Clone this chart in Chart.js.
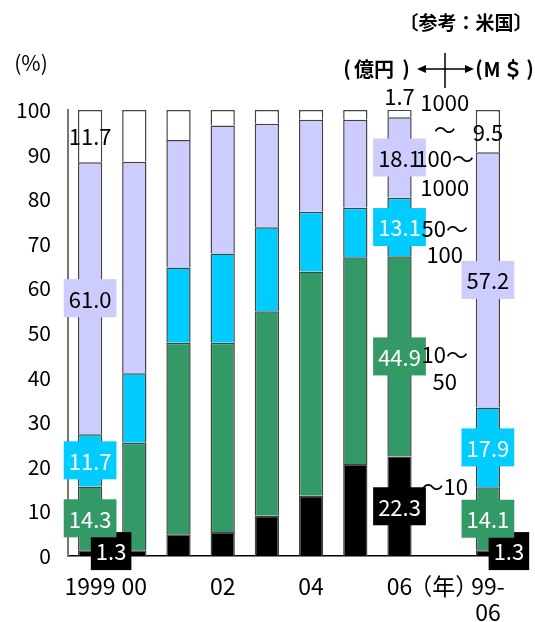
<!DOCTYPE html>
<html>
<head>
<meta charset="utf-8">
<script src="https://cdn.jsdelivr.net/npm/chart.js@4/dist/chart.umd.min.js"></script>
<style>
  html, body { margin: 0; padding: 0; background: #fff; }
  canvas { display: block; }
</style>
</head>
<body>
<canvas id="chart" width="535" height="622"></canvas>
<script>
// Category labels along the bottom axis (index 8 is an empty spacer column)
const categories = ['1999', '00', '', '02', '', '04', '', '06', '（年）', ['99-', '06']];

// Share (%) of deals by size band, stacked bottom to top
const sizeUnder10   = [1.3, 1.3, 4.9, 5.4, 9.0, 13.5, 20.6, 22.3, null, 1.3];
const size10to50    = [14.3, 24.1, 42.9, 42.4, 45.9, 50.3, 46.4, 44.9, null, 14.1];
const size50to100   = [11.7, 15.6, 16.9, 20.0, 18.8, 13.4, 11.1, 13.1, null, 17.9];
const size100to1000 = [61.0, 47.4, 28.6, 28.7, 23.2, 20.6, 19.7, 18.1, null, 57.2];
const sizeOver1000  = [11.7, 11.6, 6.7, 3.5, 3.1, 2.2, 2.2, 1.7, null, 9.5];

// Size band captions (億円 on the left of the arrow, M$ on the right)
const bandCaptions = [['1000', '～'], ['100～', '1000'], ['50～', '100'], ['10～', '50'], ['～10']];

// Y axis ticks
const yTicks = [0, 10, 20, 30, 40, 50, 60, 70, 80, 90, 100];

// Columns whose bands carry value labels
const labelledColumns = [0, 7, 9];

// Pick a narrow sans for the numerals when the system has one
function fontAvailable(name) {
  const c = document.createElement('canvas').getContext('2d');
  const s = '1999 100.0 abcxyz';
  c.font = '40px monospace';
  const a = c.measureText(s).width;
  c.font = '40px "' + name + '", monospace';
  return c.measureText(s).width !== a;
}
const NARROW = fontAvailable('Liberation Sans Narrow');
const NUM_FAMILY = NARROW ? '"Liberation Sans Narrow", "Noto Sans CJK JP", sans-serif' : '"Noto Sans CJK JP", sans-serif';
const LABEL_SIZE = NARROW ? 24 : 22;
const XTICK_SIZE = NARROW ? 24 : 23;
const YTICK_SIZE = NARROW ? 23 : 21;
const CJK_FAMILY = '"Noto Sans CJK JP", sans-serif';

const bandStyles = [
  { bg: '#000000', fg: '#ffffff' },
  { bg: '#339966', fg: '#ffffff' },
  { bg: '#00ccff', fg: '#ffffff' },
  { bg: '#ccccff', fg: '#000000' },
  { bg: '#ffffff', fg: '#000000' }
];
const bandSeries = [sizeUnder10, size10to50, size50to100, size100to1000, sizeOver1000];
const bandNames = ['～10', '10～50', '50～100', '100～1000', '1000～'];

const datasets = bandSeries.map((data, k) => ({
  label: bandNames[k],
  data: data,
  backgroundColor: bandStyles[k].bg,
  labelColor: bandStyles[k].fg,
  borderColor: '#444444',
  borderWidth: { top: 1.5, left: 1.5, right: 1.5, bottom: 0 },
  borderSkipped: 'start',
  barPercentage: 0.55,
  categoryPercentage: 1.0
}));

// Value labels: boxed in the band colour, plain text for the top band
const valueLabels = {
  id: 'valueLabels',
  afterDatasetsDraw(chart) {
    const ctx = chart.ctx;
    ctx.save();
    ctx.font = LABEL_SIZE + 'px ' + NUM_FAMILY;
    ctx.textAlign = 'center';
    ctx.textBaseline = 'middle';
    chart.data.datasets.forEach((ds, d) => {
      const meta = chart.getDatasetMeta(d);
      labelledColumns.forEach(i => {
        const v = ds.data[i];
        if (v == null) return;
        const el = meta.data[i];
        let x = el.x;
        let y = (el.y + el.base) / 2;
        const text = v.toFixed(1);
        if (d === bandSeries.length - 1) {
          if (v < 5) y = el.y - 14;
          ctx.fillStyle = '#000';
          ctx.fillText(text, x, y + 1);
          return;
        }
        if (d === 0 && v < 5) { x += 21; y -= 2; }
        const w = ctx.measureText(text).width + 10;
        const h = 38;
        ctx.fillStyle = ds.backgroundColor;
        ctx.fillRect(x - w / 2, y - h / 2, w, h);
        ctx.fillStyle = ds.labelColor;
        ctx.fillText(text, x, y + 1);
      });
    });
    ctx.restore();
  }
};

// Header texts, unit arrow and the size-band captions in the spacer column
const annotations = {
  id: 'annotations',
  afterDraw(chart) {
    const ctx = chart.ctx;
    const xs = chart.scales.x;
    const ys = chart.scales.y;
    ctx.save();
    ctx.fillStyle = '#000';
    ctx.textBaseline = 'middle';
    ctx.textAlign = 'center';

    ctx.font = 'bold 19px ' + CJK_FAMILY;
    ctx.fillText('〔参考：米国〕', 466, 23);

    // unit captions either side of the arrow
    ctx.font = 'bold 20px ' + CJK_FAMILY;
    ctx.fillText('(', 347, 68);
    ctx.fillText('億円', 374, 69);
    ctx.fillText(')', 406, 68);
    ctx.fillText('(', 479, 68);
    ctx.fillText('M', 492, 69);
    ctx.fillText('＄', 513, 69);
    ctx.fillText(')', 530, 68);

    // double-headed arrow with a centre bar
    ctx.strokeStyle = '#000';
    ctx.lineWidth = 1.5;
    ctx.beginPath();
    ctx.moveTo(419, 69); ctx.lineTo(472, 69);
    ctx.moveTo(445, 53); ctx.lineTo(445, 88);
    ctx.stroke();
    ctx.beginPath();
    ctx.moveTo(417, 69); ctx.lineTo(426, 65); ctx.lineTo(426, 73); ctx.closePath();
    ctx.moveTo(474, 69); ctx.lineTo(465, 65); ctx.lineTo(465, 73); ctx.closePath();
    ctx.fill();

    ctx.font = '21px ' + CJK_FAMILY;
    ctx.fillText('(%)', 31, 63);

    // band captions, placed by value on the y scale
    const cx = xs.getPixelForValue(8) + 1;
    const captionValues = [[101.6, 95.5], [89.2, 82.7], [73.5, 67.5], [45.1, 39.0], [15.5]];
    ctx.font = LABEL_SIZE + 'px ' + NUM_FAMILY;
    bandCaptions.forEach((lines, k) => {
      lines.forEach((t, j) => {
        ctx.fillText(t, cx, ys.getPixelForValue(captionValues[k][j]));
      });
    });
    ctx.restore();
  }
};

new Chart(document.getElementById('chart'), {
  type: 'bar',
  data: { labels: categories, datasets: datasets },
  options: {
    responsive: false,
    animation: false,
    layout: { padding: { top: 110, right: 25, left: 0, bottom: 0 } },
    plugins: { legend: { display: false }, tooltip: { enabled: false } },
    scales: {
      x: {
        stacked: true,
        grid: { display: false, drawTicks: false },
        border: { display: true, color: '#000', width: 1.5 },
        ticks: {
          autoSkip: false, maxRotation: 0, minRotation: 0,
          color: '#000', padding: 17,
          font: { family: NUM_FAMILY, size: XTICK_SIZE, lineHeight: 1.15 }
        },
        afterFit(scale) { scale.height = 66; }
      },
      y: {
        stacked: true,
        min: 0, max: 100,
        grid: { display: false, drawTicks: false },
        border: { display: true, color: '#777', width: 2 },
        afterBuildTicks(scale) { scale.ticks = yTicks.map(v => ({ value: v })); },
        ticks: {
          color: '#000', padding: 17,
          font: { family: NUM_FAMILY, size: YTICK_SIZE }
        },
        afterFit(scale) { scale.width = 68; }
      }
    }
  },
  plugins: [valueLabels, annotations]
});
</script>
</body>
</html>
